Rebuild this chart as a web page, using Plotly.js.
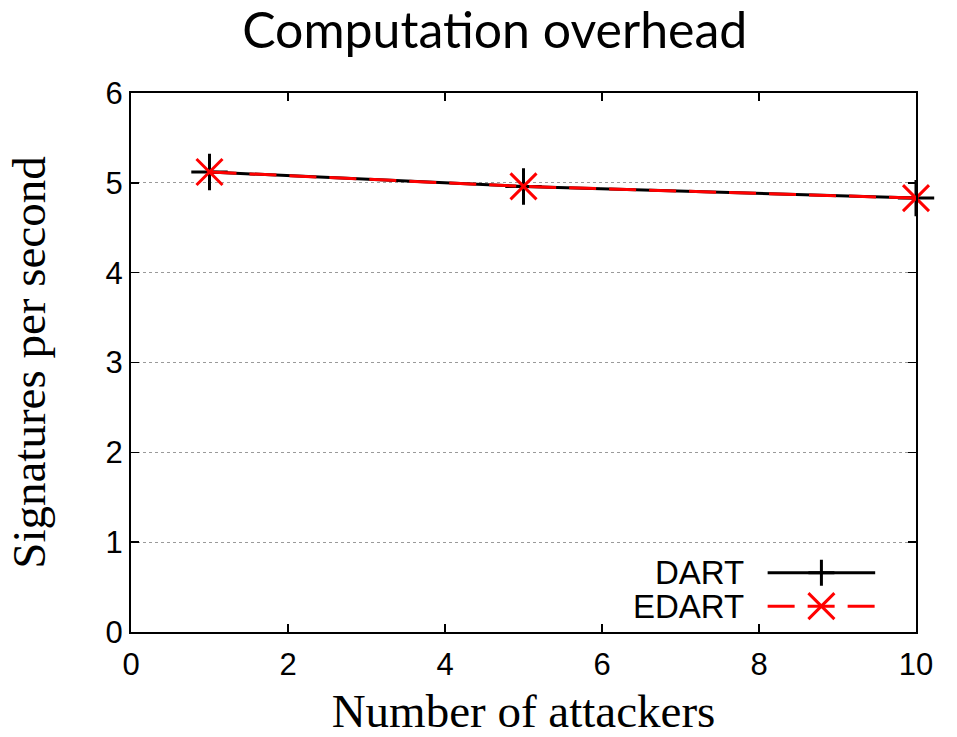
<!DOCTYPE html>
<html>
<head>
<meta charset="utf-8">
<script src="https://cdn.plot.ly/plotly-3.0.1.min.js"></script>
<style>
  html, body { margin: 0; padding: 0; background: #fff; }
  #chart { width: 957px; height: 737px; }
</style>
</head>
<body>
<div id="chart"></div>
<script>
// Signatures verified per second versus number of attackers
const attackers = [1, 5, 10];
const dartValues = [5.12, 4.96, 4.83];
const edartValues = [5.12, 4.96, 4.83];
const yTicks = [0, 1, 2, 3, 4, 5, 6];
const xTicks = [0, 2, 4, 6, 8, 10];
const seriesNames = ['DART', 'EDART'];

const traces = [
  {
    x: attackers, y: dartValues, name: seriesNames[0],
    type: 'scatter', mode: 'lines+markers', cliponaxis: false,
    line: { color: '#000000', width: 3 },
    marker: { symbol: 'cross-thin-open', size: 26, color: '#000000', line: { color: '#000000', width: 3 } },
    showlegend: false
  },
  {
    x: attackers, y: edartValues, name: seriesNames[1],
    type: 'scatter', mode: 'lines+markers', cliponaxis: false,
    line: { color: '#ff0000', width: 3, dash: '27px,13px' },
    marker: { symbol: 'x-thin-open', size: 26, color: '#ff0000', line: { color: '#ff0000', width: 3 } },
    showlegend: false
  }
];

// Legend drawn gnuplot-style: label on the left, sample to the right
const legendRows = [
  { name: seriesNames[0], y: 0.110, color: '#000000', dash: 'solid', mark: 'plus' },
  { name: seriesNames[1], y: 0.048, color: '#ff0000', dash: '27px,13px', mark: 'x' }
];
const annotations = [];
const shapes = [];
const pw = 785, ph = 539; // plot area size in px, for marker proportions
legendRows.forEach(r => {
  annotations.push({
    xref: 'paper', yref: 'paper', x: 0.784, y: r.y,
    xanchor: 'right', yanchor: 'middle', showarrow: false,
    text: r.name, font: { family: 'Liberation Sans, Arial, sans-serif', size: 33, color: '#000' }
  });
  shapes.push({
    type: 'line', xref: 'paper', yref: 'paper',
    x0: 0.811, x1: 0.948, y0: r.y, y1: r.y,
    line: { color: r.color, width: 3, dash: r.dash }
  });
  const cx = 0.8795, hx = 13 / pw, hy = 13 / ph;
  const path = r.mark === 'plus'
    ? `M ${cx - hx} ${r.y} L ${cx + hx} ${r.y} M ${cx} ${r.y - hy} L ${cx} ${r.y + hy}`
    : `M ${cx - hx} ${r.y - hy} L ${cx + hx} ${r.y + hy} M ${cx - hx} ${r.y + hy} L ${cx + hx} ${r.y - hy}`;
  shapes.push({
    type: 'path', xref: 'paper', yref: 'paper', path: path,
    line: { color: r.color, width: 3 }
  });
});

const tickFont = { family: 'Liberation Sans, Arial, sans-serif', size: 31, color: '#000' };
const titleFont = { family: 'Liberation Serif, Times New Roman, serif', size: 47, color: '#000' };

const layout = {
  width: 957, height: 737,
  paper_bgcolor: '#ffffff', plot_bgcolor: '#ffffff',
  margin: { l: 131, r: 41, t: 93, b: 105 },
  title: {
    text: 'Computation overhead',
    font: { family: 'Lato, Open Sans, sans-serif', size: 50, color: '#000' },
    x: 0.517, xanchor: 'center', y: 0.958, yanchor: 'middle'
  },
  xaxis: {
    range: [0, 10], tickvals: xTicks, ticktext: xTicks.map(String),
    ticks: 'inside', ticklen: 8, tickwidth: 1.5, tickcolor: '#000',
    showline: true, linecolor: '#000', linewidth: 2, mirror: 'ticks',
    showgrid: false, zeroline: false, tickfont: tickFont, ticklabelstandoff: 4,
    title: { text: 'Number of attackers', font: titleFont, standoff: 16 }
  },
  yaxis: {
    range: [0, 6], tickvals: yTicks, ticktext: yTicks.map(String),
    ticks: 'inside', ticklen: 8, tickwidth: 1.5, tickcolor: '#000',
    showline: true, linecolor: '#000', linewidth: 2, mirror: 'ticks',
    showgrid: true, gridcolor: '#9a9a9a', gridwidth: 1, griddash: 'dot',
    zeroline: false, tickfont: tickFont,
    title: { text: 'Signatures per second', font: titleFont, standoff: 45 }
  },
  annotations: annotations,
  shapes: shapes
};

Plotly.newPlot('chart', traces, layout, { displayModeBar: false, staticPlot: true });
</script>
</body>
</html>
